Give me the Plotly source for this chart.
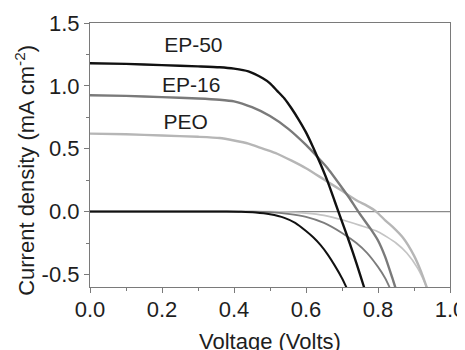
import plotly.graph_objects as go

# Illuminated J-V curves (Volts, mA cm^-2)
ep50_v = [0.0, 0.1, 0.2, 0.3, 0.36, 0.40, 0.44, 0.48, 0.50, 0.52, 0.54, 0.56, 0.58, 0.60, 0.62, 0.64, 0.66, 0.68, 0.70, 0.72, 0.74, 0.76, 0.765]
ep50_j = [1.18, 1.175, 1.165, 1.155, 1.148, 1.137, 1.115, 1.06, 1.02, 0.96, 0.90, 0.82, 0.73, 0.63, 0.51, 0.38, 0.24, 0.08, -0.08, -0.24, -0.41, -0.59, -0.64]

ep16_v = [0.0, 0.1, 0.2, 0.3, 0.36, 0.40, 0.45, 0.50, 0.55, 0.60, 0.63, 0.66, 0.70, 0.72, 0.745, 0.78, 0.80, 0.82, 0.84, 0.85]
ep16_j = [0.925, 0.92, 0.91, 0.90, 0.89, 0.877, 0.83, 0.76, 0.66, 0.53, 0.44, 0.345, 0.19, 0.11, 0.0, -0.14, -0.23, -0.36, -0.53, -0.62]

peo_v = [0.0, 0.1, 0.2, 0.3, 0.36, 0.40, 0.44, 0.48, 0.52, 0.56, 0.60, 0.65, 0.70, 0.74, 0.77, 0.795, 0.82, 0.84, 0.87, 0.90, 0.92, 0.935, 0.94]
peo_j = [0.62, 0.615, 0.605, 0.595, 0.585, 0.565, 0.54, 0.50, 0.46, 0.405, 0.345, 0.255, 0.165, 0.09, 0.045, 0.0, -0.07, -0.12, -0.21, -0.35, -0.48, -0.60, -0.64]

# Dark J-V curves
ep50d_v = [0.0, 0.1, 0.2, 0.3, 0.38, 0.42, 0.46, 0.50, 0.54, 0.57, 0.60, 0.62, 0.64, 0.66, 0.68, 0.70, 0.715]
ep50d_j = [0.0, 0.0, 0.0, 0.0, 0.0, -0.002, -0.008, -0.022, -0.05, -0.09, -0.155, -0.205, -0.265, -0.34, -0.43, -0.53, -0.62]

ep16d_v = [0.0, 0.1, 0.2, 0.3, 0.4, 0.45, 0.50, 0.55, 0.60, 0.65, 0.70, 0.74, 0.77, 0.80, 0.82, 0.835]
ep16d_j = [0.0, 0.0, 0.0, 0.0, 0.0, -0.001, -0.005, -0.018, -0.042, -0.09, -0.17, -0.25, -0.33, -0.44, -0.53, -0.62]

peod_v = [0.0, 0.1, 0.2, 0.3, 0.4, 0.50, 0.55, 0.60, 0.65, 0.70, 0.75, 0.80, 0.85, 0.88, 0.91, 0.935, 0.94]
peod_j = [0.0, 0.0, 0.0, 0.0, 0.0, 0.0, -0.004, -0.012, -0.03, -0.065, -0.11, -0.16, -0.25, -0.33, -0.45, -0.60, -0.64]

labels = ["EP-50", "EP-16", "PEO"]
label_v = [0.287, 0.281, 0.266]
label_j = [1.31, 0.99, 0.70]

zero_v = [0.0, 1.0]
zero_j = [0.0, 0.0]

x_ticks = [0.0, 0.2, 0.4, 0.6, 0.8, 1.0]
y_ticks = [-0.5, 0.0, 0.5, 1.0, 1.5]

FONT = "Liberation Sans, Arial, sans-serif"
TXT = "#1e1e1e"
AX = "#7a7a7a"
fig = go.Figure()

fig.add_trace(go.Scatter(x=zero_v, y=zero_j, mode="lines",
                         line=dict(color="#8a8a8a", width=1.2), showlegend=False))

for v, j, c, w in [(peod_v, peod_j, "#c4c4c4", 1.7),
                   (ep16d_v, ep16d_j, "#7c7c7c", 1.8),
                   (ep50d_v, ep50d_j, "#111111", 2.0),
                   (peo_v, peo_j, "#b6b6b6", 2.4),
                   (ep16_v, ep16_j, "#7a7a7a", 2.4),
                   (ep50_v, ep50_j, "#111111", 2.4)]:
    fig.add_trace(go.Scatter(x=v, y=j, mode="lines",
                             line=dict(color=c, width=w, shape="spline", smoothing=0.6),
                             showlegend=False))

fig.add_trace(go.Scatter(x=label_v, y=label_j, mode="text", text=labels,
                         textfont=dict(family=FONT, size=21, color=TXT),
                         showlegend=False))

axis_common = dict(showline=True, linecolor=AX, linewidth=1.2, mirror=True,
                   ticks="outside", ticklen=5, tickcolor=AX, showgrid=False,
                   zeroline=False, automargin=False,
                   tickfont=dict(family=FONT, size=22, color=TXT))

fig.update_xaxes(range=[0, 1], tickvals=x_ticks,
                 ticktext=[f"{t:.1f}" for t in x_ticks],
                 minor=dict(dtick=0.1, ticks="outside", ticklen=3, tickcolor=AX),
                 ticklabelstandoff=-3,
                 **axis_common)
fig.update_yaxes(range=[-0.6, 1.5], tickvals=y_ticks,
                 ticktext=[f"{t:.1f}" for t in y_ticks],
                 minor=dict(dtick=0.25, ticks="outside", ticklen=3, tickcolor=AX),
                 **axis_common)

fig.add_annotation(text="Voltage (Volts)", xref="paper", yref="paper", x=0.5, y=0,
                   yanchor="middle", xanchor="center", yshift=-54, showarrow=False,
                   font=dict(family=FONT, size=22, color=TXT))
fig.add_annotation(text="Current density (mA cm<sup>-2</sup>)", xref="paper", yref="paper",
                   x=0, y=0.44, xanchor="center", yanchor="middle", xshift=-65,
                   textangle=-90, showarrow=False,
                   font=dict(family=FONT, size=22, color=TXT))

# page body adds an 8px offset, so margins are set relative to that
fig.update_layout(width=465, height=350, margin=dict(l=82, r=23, t=15, b=71),
                  plot_bgcolor="white", paper_bgcolor="white")

fig.write_html("out.html")
